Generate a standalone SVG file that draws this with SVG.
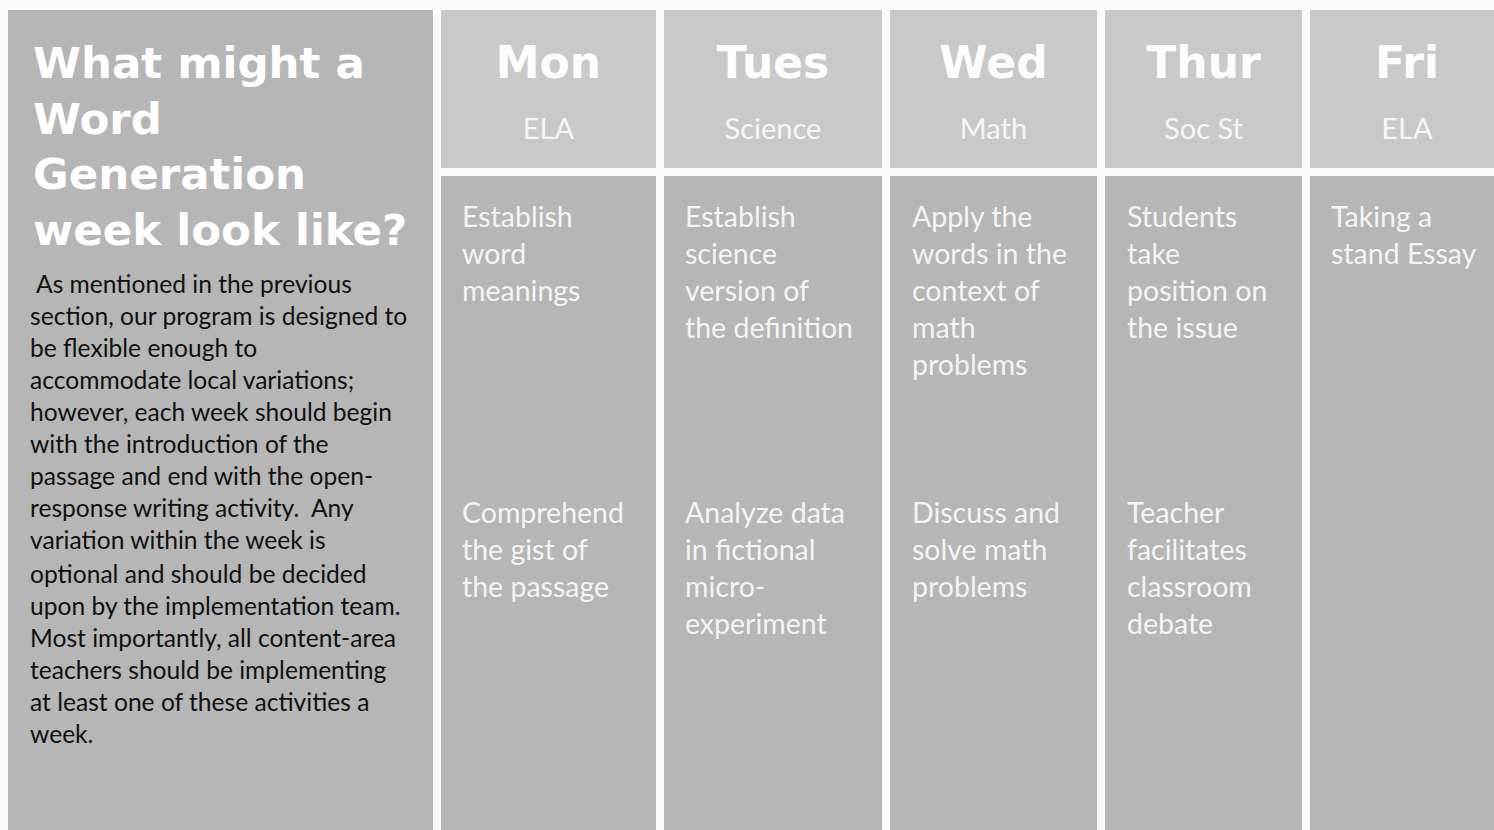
<svg xmlns="http://www.w3.org/2000/svg" width="1494" height="830" viewBox="0 0 1494 830">
<style>
.bg{fill:#fbfbfb}
.panel{fill:#b6b6b6}
.head{fill:#c9c9c9}
.body{fill:#b6b6b6}
.title{font-family:"DejaVu Sans",sans-serif;font-weight:bold;font-size:43.5px;fill:#ffffff}
.para{font-family:Lato,"Liberation Sans",sans-serif;font-size:24.6px;fill:#111111;white-space:pre}
.day{font-family:"DejaVu Sans",sans-serif;font-weight:bold;font-size:44px;fill:#fdfdfd;text-anchor:middle}
.subj{font-family:Lato,"Liberation Sans",sans-serif;font-size:29px;fill:#f6f6f6;text-anchor:middle}
.act{font-family:Lato,"Liberation Sans",sans-serif;font-size:28.5px;fill:#f4f4f4}
</style>
<rect class="bg" x="0" y="0" width="1494" height="830"/>
<g id="intro">
<rect class="panel" x="8" y="10" width="425" height="820"/>
<text class="title"><tspan x="33" y="78">What might a</tspan><tspan x="33" y="134">Word</tspan><tspan x="33" y="189">Generation</tspan><tspan x="33" y="245">week look like?</tspan></text>
<text class="para"><tspan x="36" y="293">As mentioned in the previous</tspan><tspan x="30" y="325">section, our program is designed to</tspan><tspan x="30" y="357">be flexible enough to</tspan><tspan x="30" y="389">accommodate local variations;</tspan><tspan x="30" y="421">however, each week should begin</tspan><tspan x="30" y="453">with the introduction of the</tspan><tspan x="30" y="485">passage and end with the open-</tspan><tspan x="30" y="517">response writing activity.  Any</tspan><tspan x="30" y="549">variation within the week is</tspan><tspan x="30" y="583">optional and should be decided</tspan><tspan x="30" y="615">upon by the implementation team.</tspan><tspan x="30" y="647">Most importantly, all content-area</tspan><tspan x="30" y="679">teachers should be implementing</tspan><tspan x="30" y="711">at least one of these activities a</tspan><tspan x="30" y="743">week.</tspan></text>
</g>
<g id="mon">
<rect class="head" x="441" y="10" width="215" height="158"/>
<rect class="body" x="441" y="176" width="215" height="654"/>
<text class="day" x="548.5" y="78">Mon</text>
<text class="subj" x="548.5" y="139">ELA</text>
<text class="act"><tspan x="462" y="227">Establish</tspan><tspan x="462" y="264">word</tspan><tspan x="462" y="301">meanings</tspan></text>
<text class="act"><tspan x="462" y="523">Comprehend</tspan><tspan x="462" y="560">the gist of</tspan><tspan x="462" y="597">the passage</tspan></text>
</g>
<g id="tues">
<rect class="head" x="664" y="10" width="218" height="158"/>
<rect class="body" x="664" y="176" width="218" height="654"/>
<text class="day" x="773" y="78">Tues</text>
<text class="subj" x="773" y="139">Science</text>
<text class="act"><tspan x="685" y="227">Establish</tspan><tspan x="685" y="264">science</tspan><tspan x="685" y="301">version of</tspan><tspan x="685" y="338">the definition</tspan></text>
<text class="act"><tspan x="685" y="523">Analyze data</tspan><tspan x="685" y="560">in fictional</tspan><tspan x="685" y="597">micro-</tspan><tspan x="685" y="634">experiment</tspan></text>
</g>
<g id="wed">
<rect class="head" x="890" y="10" width="207" height="158"/>
<rect class="body" x="890" y="176" width="207" height="654"/>
<text class="day" x="993.5" y="78">Wed</text>
<text class="subj" x="993.5" y="139">Math</text>
<text class="act"><tspan x="912" y="227">Apply the</tspan><tspan x="912" y="264">words in the</tspan><tspan x="912" y="301">context of</tspan><tspan x="912" y="338">math</tspan><tspan x="912" y="375">problems</tspan></text>
<text class="act"><tspan x="912" y="523">Discuss and</tspan><tspan x="912" y="560">solve math</tspan><tspan x="912" y="597">problems</tspan></text>
</g>
<g id="thur">
<rect class="head" x="1105" y="10" width="197" height="158"/>
<rect class="body" x="1105" y="176" width="197" height="654"/>
<text class="day" x="1203.5" y="78">Thur</text>
<text class="subj" x="1203.5" y="139">Soc St</text>
<text class="act"><tspan x="1127" y="227">Students</tspan><tspan x="1127" y="264">take</tspan><tspan x="1127" y="301">position on</tspan><tspan x="1127" y="338">the issue</tspan></text>
<text class="act"><tspan x="1127" y="523">Teacher</tspan><tspan x="1127" y="560">facilitates</tspan><tspan x="1127" y="597">classroom</tspan><tspan x="1127" y="634">debate</tspan></text>
</g>
<g id="fri">
<rect class="head" x="1310" y="10" width="184" height="158"/>
<rect class="body" x="1310" y="176" width="184" height="654"/>
<text class="day" x="1407" y="78">Fri</text>
<text class="subj" x="1407" y="139">ELA</text>
<text class="act"><tspan x="1331" y="227">Taking a</tspan><tspan x="1331" y="264">stand Essay</tspan></text>
</g>
<g id="connectors"/>
</svg>
